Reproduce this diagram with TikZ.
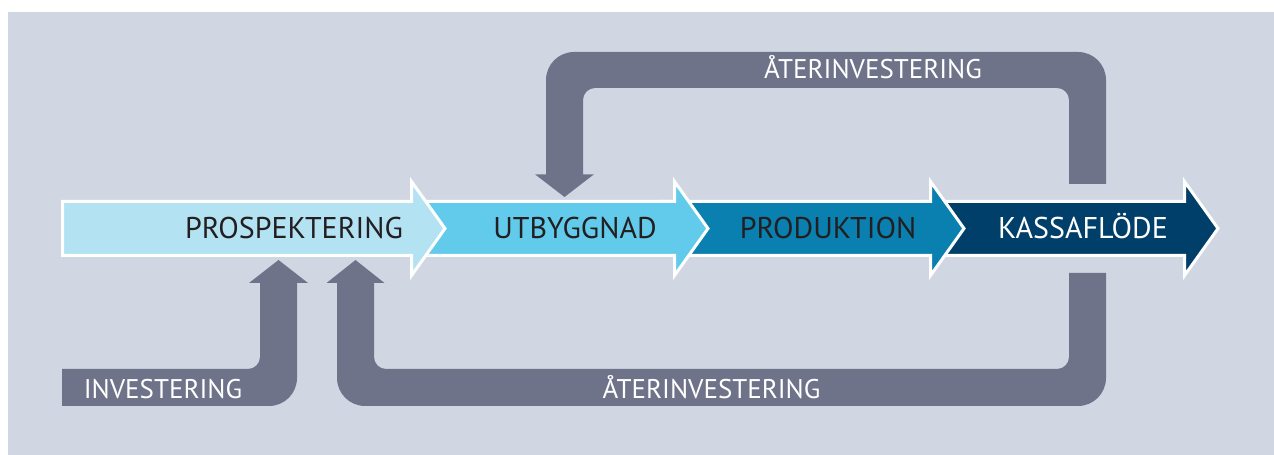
\documentclass[tikz,border=0pt]{standalone}
\usepackage{fontspec}
\setmainfont{PT Sans}
\definecolor{panel}{HTML}{D0D7E2}
\definecolor{flow}{HTML}{6E7389}
\definecolor{stageA}{HTML}{B3E2F3}
\definecolor{stageB}{HTML}{62CBEC}
\definecolor{stageC}{HTML}{0A80B1}
\definecolor{stageD}{HTML}{003F69}
\definecolor{ink}{HTML}{231F20}
\tikzset{
  stagearrow/.style={draw=white, line width=3pt, line join=miter},
  flowband/.style={fill=flow},
  stagelabel/.style={anchor=base, inner sep=0pt, font=\fontsize{30}{30}\selectfont},
  flowlabel/.style={anchor=base, inner sep=0pt, text=white, font=\fontsize{27}{27}\selectfont},
}
\begin{document}
\begin{tikzpicture}[x=1pt, y=1pt]
  \useasboundingbox (0,0) rectangle (1274,455);
  \fill[panel] (8,0) rectangle (1274,443);

  % incoming investment
  \fill[flowband] (62,86) -- (248,86) arc[start angle=270, end angle=360, radius=12]
    -- (260,172) -- (249,172) -- (278.5,195) -- (308,172) -- (297,172)
    -- (297,77) arc[start angle=0, end angle=-90, radius=28] -- (62,49) -- cycle;

  % lower reinvestment loop
  \fill[flowband] (374,172) -- (374,98) arc[start angle=180, end angle=270, radius=12]
    -- (1057,86) arc[start angle=270, end angle=360, radius=12]
    -- (1069,182) -- (1106,182)
    -- (1106,77) arc[start angle=0, end angle=-90, radius=28]
    -- (365,49) arc[start angle=270, end angle=180, radius=28]
    -- (337,172) -- (326.5,172) -- (355.5,195) -- (384.5,172) -- cycle;

  % upper reinvestment loop
  \fill[flowband] (583,280.7) -- (583,355) arc[start angle=180, end angle=90, radius=12]
    -- (1057,367) arc[start angle=90, end angle=0, radius=12]
    -- (1069,271) -- (1106,271)
    -- (1106,375) arc[start angle=0, end angle=90, radius=28]
    -- (574,403) arc[start angle=90, end angle=180, radius=28]
    -- (546,280.7) -- (535,280.7) -- (564.5,258) -- (594,280.7) -- cycle;

  % stage arrows, right to left so each head lies over the next body
  \filldraw[stagearrow, fill=stageD] (920,253.5) -- (1184.5,253.5) -- (1184.5,273.5)
    -- (1218,226.5) -- (1184.5,179.5) -- (1184.5,199.5) -- (920,199.5) -- cycle;
  \filldraw[stagearrow, fill=stageC] (660,253.5) -- (930.5,253.5) -- (930.5,273.5)
    -- (964,226.5) -- (930.5,179.5) -- (930.5,199.5) -- (660,199.5) -- cycle;
  \filldraw[stagearrow, fill=stageB] (415,253.5) -- (674.5,253.5) -- (674.5,273.5)
    -- (708,226.5) -- (674.5,179.5) -- (674.5,199.5) -- (415,199.5) -- cycle;
  \filldraw[stagearrow, fill=stageA] (62.5,253.5) -- (411.5,253.5) -- (411.5,273.5)
    -- (445,226.5) -- (411.5,179.5) -- (411.5,199.5) -- (62.5,199.5) -- cycle;

  % labels
  \node[stagelabel, text=ink] (prosp) at (294,216) {PROSPEKTERING};
  \node[stagelabel, text=ink] (utbygg) at (575,216) {UTBYGGNAD};
  \node[stagelabel, text=ink] (prod) at (828,216) {PRODUKTION};
  \node[stagelabel, text=white] (kassa) at (1083,216) {KASSAFLÖDE};
  \node[flowlabel] (invest) at (163,56) {INVESTERING};
  \node[flowlabel] (reinvlow) at (711.5,56) {ÅTERINVESTERING};
  \node[flowlabel] (reinvtop) at (873,376) {ÅTERINVESTERING};
\end{tikzpicture}
\end{document}
